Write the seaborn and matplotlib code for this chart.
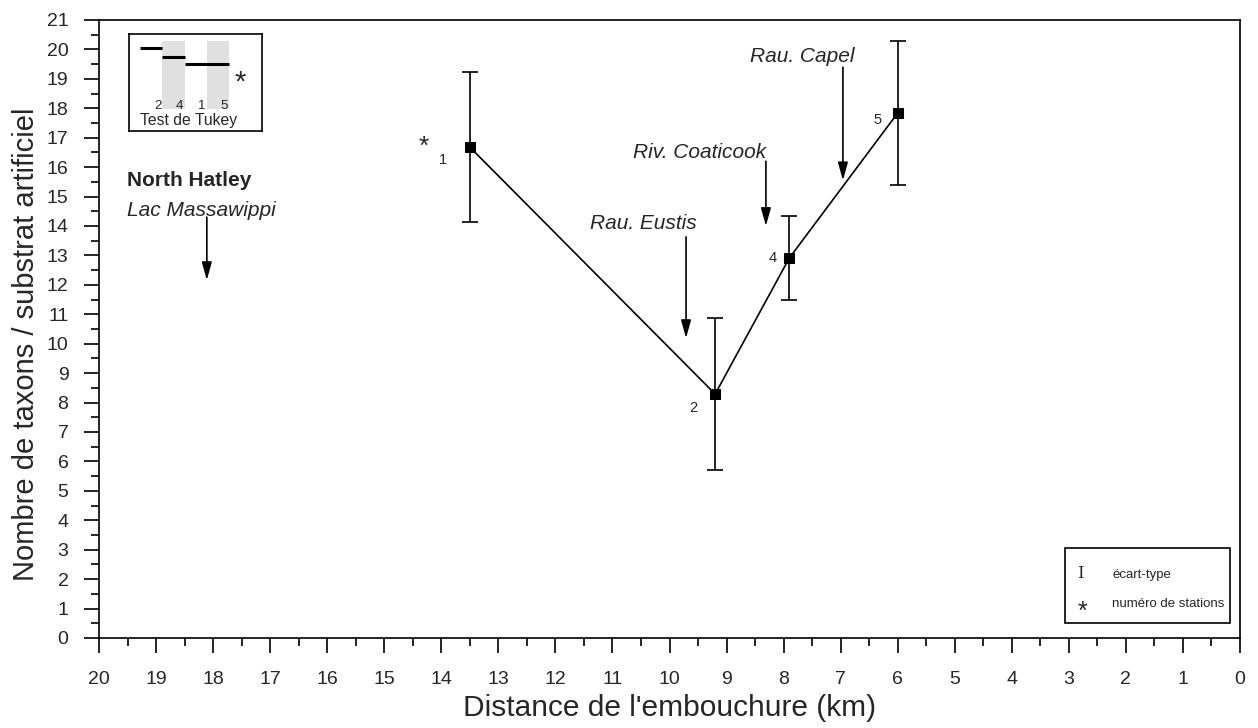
import matplotlib
matplotlib.use("Agg")
import matplotlib.pyplot as plt
from matplotlib.patches import Rectangle
from matplotlib.ticker import MultipleLocator
import seaborn as sns
import pandas as pd

# Station data: distance from the mouth (km), mean taxa count, standard deviation
stations = ["1", "2", "4", "5"]
distance_km = [13.5, 9.2, 7.9, 6.0]
taxa_mean = [16.68, 8.29, 12.91, 17.84]
taxa_sd = [2.54, 2.57, 1.43, 2.45]

# Tributary / landmark annotations: label, arrow x, arrow top, arrow tip
tributaries = ["Rau. Eustis", "Riv. Coaticook", "Rau. Capel"]
trib_x = [9.71, 8.31, 6.96]
trib_top = [13.63, 16.2, 19.4]
trib_tip = [10.19, 14.0, 15.55]

# Tukey grouping: station order and homogeneous groups (column spans)
tukey_order = ["2", "4", "1", "5"]
tukey_groups = [(0, 1), (1, 2), (2, 4)]

sns.set_theme(style="white")
plt.rcParams["font.family"] = ["Liberation Sans", "DejaVu Sans"]

df = pd.DataFrame({"station": stations, "distance": distance_km,
                   "mean": taxa_mean, "sd": taxa_sd})

fig = plt.figure(figsize=(12.58, 7.28), dpi=100)
ax = fig.add_axes([99 / 1258, 90 / 728, 1141 / 1258, 618 / 728])

sns.lineplot(data=df, x="distance", y="mean", sort=False, color="black",
             linewidth=1.2, marker="s", markersize=7.5, markeredgecolor="black",
             ax=ax)
ax.errorbar(df["distance"], df["mean"], yerr=df["sd"], fmt="none",
            ecolor="black", elinewidth=1.2, capsize=6, capthick=1.2)

ax.set_xlim(20, 0)
ax.set_ylim(0, 21)
ax.xaxis.set_major_locator(MultipleLocator(1))
ax.xaxis.set_minor_locator(MultipleLocator(0.5))
ax.yaxis.set_major_locator(MultipleLocator(1))
ax.yaxis.set_minor_locator(MultipleLocator(0.5))
ax.tick_params(which="major", direction="out", length=11, width=1.2,
               labelsize=14, color="black", bottom=True, left=True)
ax.tick_params(which="minor", direction="out", length=5.5, width=1.2,
               color="black", bottom=True, left=True)
ax.tick_params(axis="x", which="major", pad=13)
ax.tick_params(axis="y", which="major", pad=11)
for sp in ax.spines.values():
    sp.set_color("black")
    sp.set_linewidth(1.2)

ax.set_xlabel("Distance de l'embouchure (km)", fontsize=21.5, va="center")
ax.xaxis.set_label_coords(0.5, -0.113)
ax.set_ylabel("Nombre de taxons / substrat artificiel", fontsize=21,
              va="center")
ax.yaxis.set_label_coords(-0.064, 0.475)

# Station numbers
label_offsets = {"1": (0.47, -0.44), "2": (0.39, -0.48), "4": (0.29, 0.0), "5": (0.35, -0.24)}
for s, x, y in zip(stations, distance_km, taxa_mean):
    dx, dy = label_offsets[s]
    ax.text(x + dx, y + dy, s, fontsize=10.5, ha="center", va="center")
ax.text(14.30, 16.7, "*", fontsize=19, ha="center", va="center")

# Lake and town
ax.text(19.51, 15.56, "North Hatley", fontsize=15, fontweight="bold",
        ha="left", va="center")
ax.text(19.51, 14.54, "Lac Massawippi", fontsize=15, style="italic",
        ha="left", va="center")
arrow_kw = dict(arrowstyle="-|>,head_length=0.9,head_width=0.25",
                color="black", lw=1.2, shrinkA=0, shrinkB=0)
ax.annotate("", xy=(18.11, 12.16), xytext=(18.11, 14.3), arrowprops=arrow_kw)

# Tributaries
trib_text = [(9.52, 14.1), (8.31, 16.5), (6.75, 19.75)]
for name, x, top, tip, (tx, ty) in zip(tributaries, trib_x, trib_top,
                                        trib_tip, trib_text):
    ax.annotate("", xy=(x, tip), xytext=(x, top), arrowprops=arrow_kw)
    ax.text(tx, ty, name, fontsize=15, style="italic", ha="right", va="center")

# Legend box (bottom right)
ax.add_patch(Rectangle((0.847, 0.024), 0.144, 0.122, transform=ax.transAxes,
                       fill=False, edgecolor="black", linewidth=1.2))
ax.text(0.860, 0.105, "I", transform=ax.transAxes, fontsize=12,
        ha="center", va="center", family="DejaVu Serif")
ax.text(0.888, 0.102, "écart-type", transform=ax.transAxes, fontsize=9.5,
        ha="left", va="center")
ax.text(0.862, 0.043, "*", transform=ax.transAxes, fontsize=18,
        ha="center", va="center")
ax.text(0.888, 0.055, "numéro de stations", transform=ax.transAxes,
        fontsize=9.5, ha="left", va="center")

# Tukey test inset
ins = fig.add_axes([129 / 1258, (728 - 131) / 728, 133 / 1258, 97 / 728])
ins.set_xlim(-0.5, 5.47)
ins.set_ylim(0, 1)
ins.set_xticks([])
ins.set_yticks([])
ins.set_facecolor("white")
for sp in ins.spines.values():
    sp.set_color("black")
    sp.set_linewidth(1.2)
for i in (1, 3):
    ins.add_patch(Rectangle((i, 0.227), 1, 0.70, facecolor="#e0e0e0",
                            edgecolor="none"))
for lvl, (a, b) in zip([0.856, 0.763, 0.691], tukey_groups):
    ins.plot([a, b], [lvl, lvl], color="black", lw=2.2, solid_capstyle="butt")
for i, s in enumerate(tukey_order):
    ins.text(i + 0.78, 0.258, s, fontsize=9.5, ha="center", va="center")
ins.text(2.17, 0.113, "Test de Tukey", fontsize=11.3, ha="center", va="center")
ins.text(4.48, 0.50, "*", fontsize=21, ha="center", va="center")

fig.savefig("out.png", dpi=100)
